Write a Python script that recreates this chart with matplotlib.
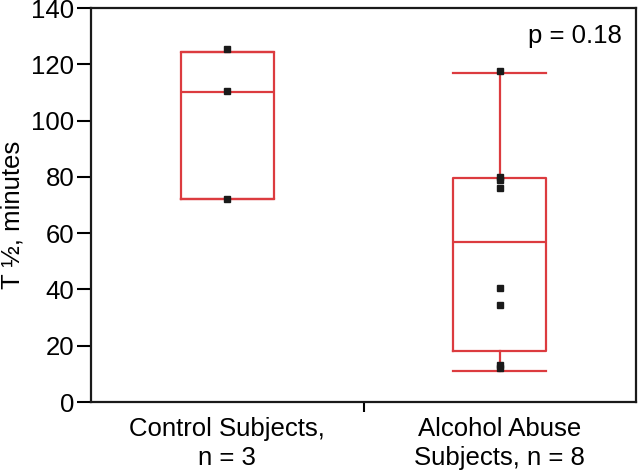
import matplotlib
matplotlib.use("Agg")
import matplotlib.pyplot as plt

# data
groups = ["Control Subjects,\nn = 3", "Alcohol Abuse\nSubjects, n = 8"]
control = [125.5, 110.5, 72.0]
alcohol = [117.5, 80.0, 79.0, 76.0, 40.5, 34.5, 13.0, 12.0]
# box stats (whisker low, q1, median, q3, whisker high)
control_box = [72.0, 72.0, 110.0, 124.5, 124.5]
alcohol_box = [11.0, 18.2, 57.0, 79.6, 116.8]
p_text = "p = 0.18"

RED = "#dc3b3f"
FS = 18.5

plt.rcParams["font.family"] = ["Liberation Sans", "DejaVu Sans"]

fig = plt.figure(figsize=(6.4, 4.74), dpi=100)
ax = fig.add_axes([91 / 640, 1 - 402 / 474, 545 / 640, 394 / 474])

stats = []
for name, b in zip(groups, [control_box, alcohol_box]):
    stats.append(dict(label=name, whislo=b[0], q1=b[1], med=b[2], q3=b[3], whishi=b[4], fliers=[]))

style = dict(color=RED, linewidth=1.6)
ax.bxp(stats, positions=[1, 2], widths=0.34, showfliers=False,
       boxprops=style, medianprops=style, whiskerprops=style, capprops=style,
       capwidths=0.34)

for pos, vals in zip([1, 2], [control, alcohol]):
    ax.plot([pos] * len(vals), vals, "s", color="#1a1a1a", markersize=4.8, zorder=5,
            linestyle="none")

ax.set_xlim(0.5, 2.5)
ax.set_ylim(0, 140)
ax.set_yticks(range(0, 141, 20))
ax.set_xticks([1, 2])
ax.set_xticklabels(groups, fontsize=FS, linespacing=1.25)
ax.set_xticks([1.5], minor=True)
ax.tick_params(axis="x", which="major", length=0, pad=11)
ax.tick_params(axis="x", which="minor", length=7, width=1.5, direction="out")
ax.tick_params(axis="y", length=10, width=1.5, labelsize=FS, pad=2)

for s in ax.spines.values():
    s.set_linewidth(1.6)
    s.set_color("#1a1a1a")

# y label placed in figure coords so it sits close to the left edge like the original
fig.text(13 / 640, 1 - 215 / 474, "T ½, minutes", rotation=90, ha="center", va="center",
         fontsize=FS)
ax.text(0.975, 0.96, p_text, transform=ax.transAxes, ha="right", va="top", fontsize=FS)

fig.savefig("out.png", dpi=100)
